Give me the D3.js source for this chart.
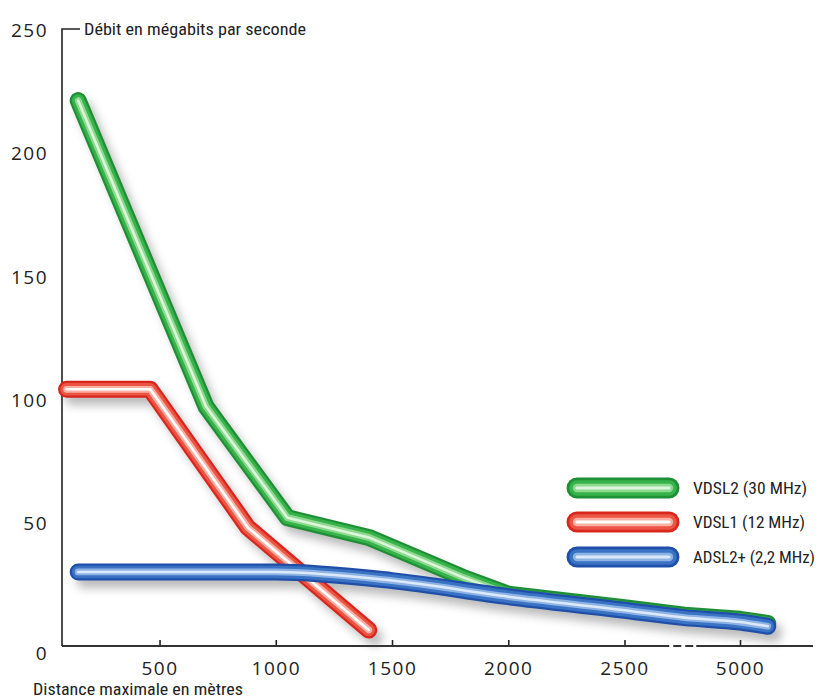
<!DOCTYPE html>
<html>
<head>
<meta charset="utf-8">
<script src="https://cdn.jsdelivr.net/npm/d3@7"></script>
<style>
  body { margin: 0; background: #fff; }
  svg { display: block; }
  .num { font-family: "Open Sans", "Liberation Sans", sans-serif; font-size: 19px; letter-spacing: 1.5px; fill: #222; }
  .cond { font-family: "Liberation Sans Narrow", "Roboto Condensed", "Liberation Sans", sans-serif; fill: #222; }
</style>
</head>
<body>
<svg id="chart"></svg>
<script>
// Data (distance in m, rate in Mbit/s)
const vdsl2Dist = [150, 700, 1050, 1400, 1800, 2000, 2500, 3800, 5000, 5600];
const vdsl2Rate = [221, 97, 52, 44, 28, 21, 15.5, 12.5, 10.8, 9.2];

const vdsl1Dist = [100, 460, 880, 1400];
const vdsl1Rate = [104, 104, 48, 6.5];

const adslDist = [150, 1000, 1500, 2000, 2500, 3800, 5000, 5600];
const adslRate = [30, 30, 26.5, 20, 14.5, 11.5, 9.7, 8];

const seriesNames = ["VDSL2 (30 MHz)", "VDSL1 (12 MHz)", "ADSL2+ (2,2 MHz)"];
const xTicks = [500, 1000, 1500, 2000, 2500, 5000];
const yTicks = [0, 50, 100, 150, 200, 250];

const width = 823, height = 699;

const svg = d3.select("#chart")
    .attr("width", width)
    .attr("height", height);

// Scales (the x axis is broken between 2500 and 5000)
const x = d3.scaleLinear()
    .domain([0, 2500, 5000])
    .range([43.3, 624.5, 740]);

const y = d3.scaleLinear()
    .domain([0, 250])
    .range([646, 29]);

const x0 = 62, xEnd = 813;

// Shadow filter
const defs = svg.append("defs");
defs.append("filter")
    .attr("id", "blur")
    .attr("x", "-20%").attr("y", "-20%")
    .attr("width", "140%").attr("height", "140%")
    .append("feGaussianBlur")
    .attr("stdDeviation", 5);

// Tube styles
const styles = [
    {dark: "#1f8f35", base: "#37b34b", light: "#8fd98f", hi: "#dcf5dc"},
    {dark: "#d8261c", base: "#ec5544", light: "#f7b0a3", hi: "#ffffff"},
    {dark: "#1f4fa8", base: "#3a72c4", light: "#8db3e4", hi: "#dce9f8"}
];

const series = [
    {dist: vdsl2Dist, rate: vdsl2Rate, curve: d3.curveLinear},
    {dist: vdsl1Dist, rate: vdsl1Rate, curve: d3.curveLinear},
    {dist: adslDist, rate: adslRate, curve: d3.curveMonotoneX}
];

function pathFor(s) {
    return d3.line()
        .x(i => x(s.dist[i]))
        .y(i => y(s.rate[i]))
        .curve(s.curve)(d3.range(s.dist.length));
}

function tube(g, d, st, w) {
    const layers = [
        [st.dark, w],
        [st.base, w * 0.74],
        [st.light, w * 0.4],
        [st.hi, w * 0.15]
    ];
    layers.forEach(([c, sw]) => {
        g.append("path")
            .attr("d", d)
            .attr("fill", "none")
            .attr("stroke", c)
            .attr("stroke-width", sw)
            .attr("stroke-linecap", "round")
            .attr("stroke-linejoin", "round");
    });
}

// Axes
const yAxis = svg.append("g")
    .attr("transform", `translate(${x0},0)`)
    .call(d3.axisLeft(y).tickValues(yTicks).tickSize(0).tickPadding(14));
yAxis.select(".domain").remove();
yAxis.selectAll("text")
    .attr("class", "num")
    .attr("dy", d => d === 0 ? "0.7em" : "0.38em");

svg.append("path")
    .attr("d", `M${x0 + 18},${y(250)}H${x0}V${y(0)}`)
    .attr("fill", "none")
    .attr("stroke", "#222")
    .attr("stroke-width", 1.6);

const xAxis = svg.append("g")
    .attr("transform", `translate(0,${y(0)})`)
    .call(d3.axisBottom(x).tickValues(xTicks).tickFormat(d3.format("d"))
        .tickSizeInner(-6).tickSizeOuter(0).tickPadding(16));
xAxis.select(".domain").remove();
xAxis.selectAll(".tick line").attr("stroke", "#222").attr("stroke-width", 1.6);
xAxis.selectAll("text").attr("class", "num");

// x axis line with the break marks
const breakX = (x(2500) + x(5000)) / 2;
const axisSegs = [[x0, breakX - 13], [breakX - 9, breakX - 1], [breakX + 3, breakX + 11], [breakX + 14, xEnd]];
svg.append("g").selectAll("line")
    .data(axisSegs)
    .enter()
    .append("line")
    .attr("x1", d => d[0])
    .attr("x2", d => d[1])
    .attr("y1", y(0))
    .attr("y2", y(0))
    .attr("stroke", "#333")
    .attr("stroke-width", 2);

// Axis titles
svg.append("text")
    .attr("class", "cond")
    .attr("x", 84)
    .attr("y", y(250) + 6)
    .attr("font-size", 16)
    .attr("textLength", 222)
    .attr("lengthAdjust", "spacingAndGlyphs")
    .text("Débit en mégabits par seconde");

svg.append("text")
    .attr("class", "cond")
    .attr("x", 33)
    .attr("y", 695)
    .attr("font-size", 16)
    .attr("textLength", 210)
    .attr("lengthAdjust", "spacingAndGlyphs")
    .text("Distance maximale en mètres");

// Shadows
const shadows = svg.append("g")
    .attr("filter", "url(#blur)")
    .attr("transform", "translate(6,8)")
    .attr("opacity", 0.4);
series.forEach(s => {
    shadows.append("path")
        .attr("d", pathFor(s))
        .attr("fill", "none")
        .attr("stroke", "#555")
        .attr("stroke-width", 16)
        .attr("stroke-linecap", "round")
        .attr("stroke-linejoin", "round");
});

// Lines
series.forEach((s, i) => {
    tube(svg.append("g"), pathFor(s), styles[i], 17);
});

// Legend
const legendY = [488, 522, 557];
const legend = svg.selectAll(".legend")
    .data(seriesNames)
    .enter()
    .append("g")
    .attr("class", "legend")
    .attr("transform", (d, i) => `translate(577,${legendY[i]})`);

legend.append("path")
    .attr("d", "M0,0H92")
    .attr("transform", "translate(5,8)")
    .attr("filter", "url(#blur)")
    .attr("stroke", "#555")
    .attr("opacity", 0.4)
    .attr("stroke-width", 20)
    .attr("stroke-linecap", "round");

legend.each(function(d, i) {
    tube(d3.select(this), "M0,0H92", styles[i], 21);
});

const legendW = [114, 112, 122];
legend.append("text")
    .attr("class", "cond")
    .attr("x", 116)
    .attr("y", 6)
    .attr("font-size", 16)
    .attr("textLength", (d, i) => legendW[i])
    .attr("lengthAdjust", "spacingAndGlyphs")
    .text(d => d);
</script>
</body>
</html>
